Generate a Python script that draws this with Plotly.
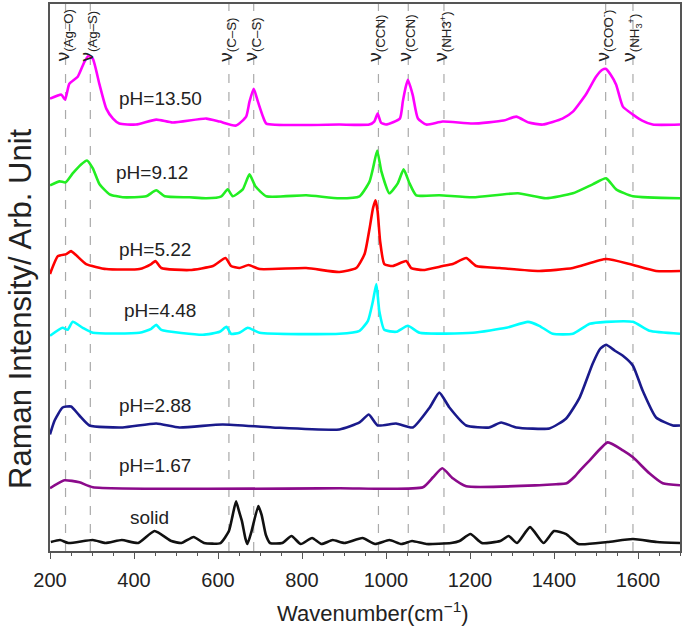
import plotly.graph_objects as go

# ---------------- data (intensity in arbitrary units, offset stacked) ----------------
wn_ph1350 = [200, 227, 236, 246, 266, 282, 292, 302, 318, 334, 350, 365, 405, 453, 492, 572, 604, 643,
             667, 675, 685, 695, 707, 715, 889, 960, 972, 980, 988, 1000, 1033, 1040, 1046, 1052, 1058,
             1064, 1076, 1096, 1135, 1207, 1280, 1310, 1340, 1373, 1420, 1445, 1477, 1500, 1515, 1523,
             1535, 1548, 1564, 1588, 1610, 1635, 1700]
int_ph1350 = [454, 458, 453, 469, 476, 491, 497, 494, 468, 444, 434, 429, 428, 433, 430, 434, 431, 427,
              436, 451, 464, 451, 436, 429, 428, 428, 431, 439, 430, 428, 434, 451, 464, 473, 466,
              457, 434, 428, 431, 429, 432, 436, 430, 428, 434, 441, 459, 476, 483, 484,
              478, 468, 446, 438, 432, 428, 428]

wn_ph912 = [200, 223, 237, 254, 274, 288, 302, 318, 342, 373, 429, 453, 473, 532, 572, 608, 623, 635,
            659, 675, 689, 715, 810, 889, 937, 961, 969, 979, 989, 1008, 1028, 1042, 1056, 1072, 1127,
            1207, 1314, 1381, 1445, 1492, 1524, 1548, 1588, 1700]
int_ph912 = [367, 371, 370, 379, 388, 392, 384, 368, 358, 355, 356, 362, 356, 355, 354, 356, 363, 356,
             363, 378, 366, 356, 357, 354, 356, 371, 384, 402, 381, 359, 369, 383, 369, 357, 357,
             355, 359, 354, 359, 368, 374, 363, 356, 354]

wn_ph522 = [200, 219, 239, 250, 262, 286, 334, 413, 441, 451, 465, 532, 588, 618, 631, 651, 673, 699,
            810, 889, 929, 949, 961, 969, 975, 980, 986, 996, 1016, 1048, 1060, 1088, 1135, 1159, 1191,
            1215, 1270, 1365, 1445, 1524, 1580, 1643, 1700]
int_ph522 = [278, 296, 298, 301, 297, 288, 283, 283, 288, 291, 284, 282, 286, 294, 286, 284, 287, 283,
             284, 280, 284, 298, 324, 344, 352, 341, 311, 288, 286, 291, 284, 282, 286, 288, 294,
             286, 284, 281, 284, 293, 288, 281, 281]

wn_ph448 = [200, 230, 242, 254, 278, 302, 413, 441, 453, 465, 564, 604, 620, 631, 651, 671, 699, 889,
            937, 957, 969, 977, 984, 996, 1024, 1052, 1080, 1207, 1286, 1338, 1365, 1397, 1445, 1485,
            1524, 1588, 1627, 1700]
int_ph448 = [216, 224, 222, 230, 224, 219, 219, 223, 227, 222, 217, 220, 225, 218, 219, 224, 219, 218,
             221, 231, 251, 268, 241, 222, 220, 226, 219, 219, 224, 230, 226, 218, 218, 228,
             230, 230, 221, 218]

wn_ph288 = [200, 211, 230, 250, 270, 294, 373, 453, 508, 611, 730, 889, 937, 959, 980, 1024, 1064, 1104,
            1127, 1151, 1191, 1246, 1274, 1310, 1389, 1429, 1461, 1492, 1510, 1524, 1545, 1564, 1588,
            1611, 1643, 1683, 1700]
int_ph288 = [117, 131, 144, 145, 136, 126, 124, 128, 124, 127, 124, 122, 129, 137, 126, 128, 124, 144,
             159, 144, 126, 124, 129, 124, 123, 133, 154, 188, 203, 207, 201, 196, 186,
             161, 134, 126, 126]

wn_ph167 = [200, 234, 270, 302, 889, 1088, 1112, 1134, 1159, 1191, 1365, 1405, 1430, 1450, 1460, 1485,
            1528, 1564, 1588, 1627, 1659, 1700]
int_ph167 = [63, 71, 69, 64, 63, 64, 74, 83, 73, 65, 66, 67, 68, 75, 80, 91,
             109, 101, 94, 78, 68, 66]

wn_solid = [202, 224, 244, 302, 332, 371, 410, 449, 489, 513, 542, 567, 606, 626, 635, 643, 650, 657,
            665, 670, 680, 696, 704, 714, 724, 753, 775, 797, 824, 846, 873, 901, 944, 974, 1008, 1037,
            1062, 1096, 1155, 1175, 1201, 1228, 1272, 1292, 1312, 1343, 1375, 1400, 1429, 1458, 1527,
            1588, 1645, 1700]
int_solid = [9, 11, 8, 11, 8, 11, 8, 20, 10, 8, 14, 8, 8, 20, 36, 50, 40, 30,
             13, 7, 20, 45, 36, 16, 8, 8, 15, 7, 13, 7, 11, 8, 13, 7, 11, 7,
             10, 7, 8, 10, 17, 8, 10, 15, 8, 24, 8, 20, 17, 7, 9,
             12, 9, 8]

series_names = ["pH=13.50", "pH=9.12", "pH=5.22", "pH=4.48", "pH=2.88", "pH=1.67", "solid"]
series_colors = ["#FF00FF", "#22EE22", "#FF0000", "#00FFFF", "#1A1A8C", "#8B0A8B", "#111111"]

# vertical reference lines (band assignments)
band_positions = [237, 296, 626, 685, 982, 1053, 1138, 1523, 1588]
band_labels = ["ν<sub>(Ag–O)</sub>", "ν<sub>(Ag–S)</sub>", "ν<sub>(C–S)</sub>", "ν<sub>(C–S)</sub>",
               "ν<sub>(CCN)</sub>", "ν<sub>(CCN)</sub>", "ν<sub>(NH3<sup>+</sup>)</sub>",
               "ν<sub>(COO<sup>-</sup>)</sub>", "ν<sub>(NH<sub>3</sub><sup>+</sup>)</sub>"]

x_ticks = [200, 400, 600, 800, 1000, 1200, 1400, 1600]

# ---------------- figure ----------------
FONT = "Liberation Sans, Arial, sans-serif"
fig = go.Figure()

all_x = [wn_ph1350, wn_ph912, wn_ph522, wn_ph448, wn_ph288, wn_ph167, wn_solid]
all_y = [int_ph1350, int_ph912, int_ph522, int_ph448, int_ph288, int_ph167, int_solid]

for bx in band_positions:
    fig.add_shape(type="line", xref="x", yref="paper", x0=bx, x1=bx, y0=0, y1=1,
                  line=dict(color="#AAAAAA", width=1.2, dash="dash"), layer="below")

for xs, ys, name, col in zip(all_x, all_y, series_names, series_colors):
    fig.add_trace(go.Scatter(x=xs, y=ys, mode="lines", name=name,
                             line=dict(color=col, width=2.6, shape="spline", smoothing=0.5),
                             showlegend=False))

# spectrum labels (placed in data coordinates)
label_pos = [(463, 454), (444, 380), (449, 303), (461, 241), (451, 146), (449, 86), (437, 34)]
for name, (lx, ly) in zip(series_names, label_pos):
    fig.add_annotation(x=lx, y=ly, xref="x", yref="y", text=name, showarrow=False,
                       font=dict(family=FONT, size=19, color="#222222"),
                       xanchor="center", yanchor="middle")

# band labels, rotated
for bx, txt in zip(band_positions, band_labels):
    fig.add_annotation(x=bx, y=489, xref="x", yref="y", text=txt, showarrow=False,
                       textangle=-90, font=dict(family=FONT, size=19, color="#222222"),
                       xanchor="center", yanchor="bottom", xshift=-2)

# axis titles
fig.add_annotation(x=0.5, y=-0.111, xref="paper", yref="paper",
                   text="Wavenumber(cm<sup>−1</sup>)", showarrow=False,
                   font=dict(family=FONT, size=22, color="#222222"),
                   xanchor="center", yanchor="middle", xshift=8)
fig.add_annotation(x=-0.046, y=0.4426, xref="paper", yref="paper",
                   text="Raman Intensity/ Arb. Unit", showarrow=False, textangle=-90,
                   font=dict(family=FONT, size=31, color="#222222"),
                   xanchor="center", yanchor="middle")

fig.update_layout(
    width=685, height=635,
    margin=dict(l=50, r=5, t=2, b=84),
    paper_bgcolor="white", plot_bgcolor="white",
    font=dict(family=FONT, color="#222222"),
    xaxis=dict(range=[200, 1700], tickvals=x_ticks, ticks="outside", ticklen=6, tickwidth=1.2,
               tickcolor="#555555", showline=True, linecolor="#555555", linewidth=1.5, mirror=True,
               showgrid=False, zeroline=False, tickfont=dict(family=FONT, size=20, color="#222222"),
               ticklabelstandoff=4,
               minor=dict(dtick=50, ticks="outside", ticklen=3.5, tickcolor="#555555", tickwidth=1,
                          showgrid=False)),
    yaxis=dict(range=[0, 549], showticklabels=False, ticks="", showline=True, linecolor="#555555",
               linewidth=1.5, mirror=True, showgrid=False, zeroline=False),
)

fig.write_html("out.html", config={"displayModeBar": False},
               post_script="document.body.style.margin='0';document.body.style.padding='0';")
